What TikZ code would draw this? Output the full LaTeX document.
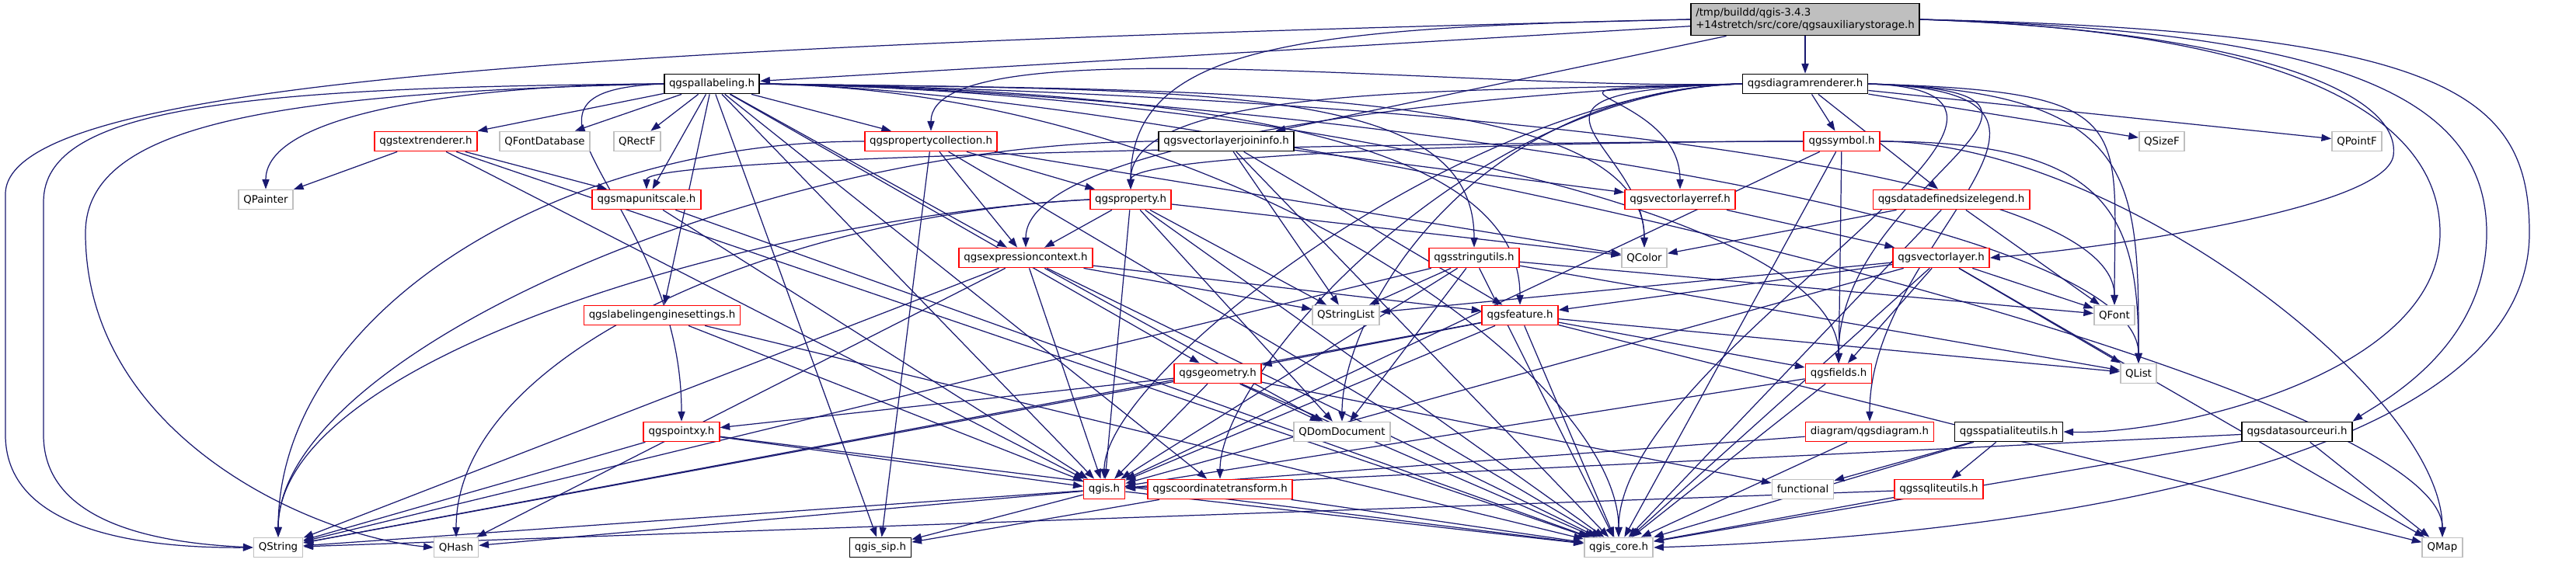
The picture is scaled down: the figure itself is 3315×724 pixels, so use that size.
\documentclass[tikz,border=0pt]{standalone}
\usepackage{fontspec}
\setmainfont{DejaVu Sans}
\usepackage{tikz}
\usetikzlibrary{arrows.meta, backgrounds}
\definecolor{depblue}{RGB}{25, 25, 112}
\definecolor{extgray}{RGB}{191, 191, 191}
\definecolor{redframe}{RGB}{255, 0, 0}

\begin{document}
\begin{tikzpicture}[
    x=0.01cm, y=-0.01cm,
    every node/.style={font=\fontsize{3.8}{4.4}\selectfont, inner xsep=1.8pt, inner ysep=0.5pt, minimum height=0.25cm, fill=white, line width=0.5pt},
    filebox/.style={draw=black},
    truncbox/.style={draw=redframe},
    extbox/.style={draw=extgray},
    mainbox/.style={draw=black, fill=extgray, align=left, minimum height=0.41cm},
    dep/.style={draw=depblue, line width=0.35pt, -{Triangle[length=3.6pt, width=2.6pt]}}
]
\useasboundingbox (0,0) rectangle (3315,724);

% rank 0 and 1
\node[mainbox] (top) at (2323, 25) {/tmp/buildd/qgis-3.4.3\\+14stretch/src/core/qgsauxiliarystorage.h};
\node[filebox] (pal) at (916, 108) {qgspallabeling.h};
\node[filebox] (diagr) at (2323, 108) {qgsdiagramrenderer.h};

% rank 2
\node[truncbox] (textr) at (548, 182) {qgstextrenderer.h};
\node[extbox] (fontdb) at (701, 182) {QFontDatabase};
\node[extbox] (rectf) at (820, 182) {QRectF};
\node[truncbox] (propcoll) at (1198, 182) {qgspropertycollection.h};
\node[filebox] (vljoin) at (1578, 182) {qgsvectorlayerjoininfo.h};
\node[truncbox] (symbol) at (2370, 182) {qgssymbol.h};
\node[extbox] (sizef) at (2782, 182) {QSizeF};
\node[extbox] (pointf) at (3033, 182) {QPointF};

% rank 3
\node[extbox] (painter) at (342, 257) {QPainter};
\node[truncbox] (mapunit) at (832, 257) {qgsmapunitscale.h};
\node[truncbox] (prop) at (1455, 257) {qgsproperty.h};
\node[truncbox] (vlref) at (2162, 257) {qgsvectorlayerref.h};
\node[truncbox] (ddsl) at (2511, 257) {qgsdatadefinedsizelegend.h};

% rank 4
\node[truncbox] (exprctx) at (1320, 332) {qgsexpressioncontext.h};
\node[truncbox] (strutils) at (1897, 332) {qgsstringutils.h};
\node[extbox] (qcolor) at (2116, 332) {QColor};
\node[truncbox] (vlayer) at (2498, 332) {qgsvectorlayer.h};

% rank 5
\node[truncbox] (labeng) at (852, 406) {qgslabelingenginesettings.h};
\node[extbox] (strlist) at (1732, 406) {QStringList};
\node[truncbox] (feature) at (1956, 406) {qgsfeature.h};
\node[extbox] (qfont) at (2721, 406) {QFont};

% rank 6
\node[truncbox] (geometry) at (1567, 481) {qgsgeometry.h};
\node[truncbox] (fields) at (2366, 481) {qgsfields.h};
\node[extbox] (qlist) at (2752, 481) {QList};

% rank 7
\node[truncbox] (pointxy) at (877, 556) {qgspointxy.h};
\node[extbox] (domdoc) at (1727, 556) {QDomDocument};
\node[truncbox] (diagram) at (2406, 556) {diagram/qgsdiagram.h};
\node[filebox] (spatialite) at (2585, 556) {qgsspatialiteutils.h};
\node[filebox] (dsuri) at (2956, 556) {qgsdatasourceuri.h};

% rank 8
\node[truncbox] (qgis) at (1421, 630) {qgis.h};
\node[truncbox] (coordtr) at (1570, 630) {qgscoordinatetransform.h};
\node[extbox] (functional) at (2320, 630) {functional};
\node[truncbox] (sqlite) at (2495, 630) {qgssqliteutils.h};

% rank 9
\node[extbox] (qstring) at (358, 705) {QString};
\node[extbox] (qhash) at (587, 705) {QHash};
\node[filebox] (qgissip) at (1133, 705) {qgis\_sip.h};
\node[extbox] (qgiscore) at (2083, 705) {qgis\_core.h};
\node[extbox] (qmap) at (3143, 705) {QMap};

\begin{scope}[on background layer]
% from the file itself
\draw[dep] (top) -- (pal);
\draw[dep] (top) -- (diagr);
\draw[dep] (top) -- (vljoin);
\draw[dep] (top.west) .. controls +(-500,10) and +(0,-200) .. (prop);
\draw[dep] (top.west) .. controls (700,60) and (7,110) .. (7,250) -- (7,560) .. controls (7,690) and (200,706) .. (qstring.west);
\draw[dep] (top.east) .. controls (2900,40) and (3090,120) .. (3080,200) .. controls (3070,270) and (2700,320) .. (vlayer.east);
\draw[dep] (top.east) .. controls (2950,40) and (3140,150) .. (3140,300) .. controls (3140,480) and (2800,560) .. (spatialite.east);
\draw[dep] (top.east) .. controls (3000,40) and (3200,120) .. (3200,300) .. controls (3200,450) and (3060,520) .. (dsuri.north east);
\draw[dep] (top.east) .. controls (3150,40) and (3255,120) .. (3255,300) .. controls (3255,600) and (2600,690) .. (qgiscore.east);

% qgspallabeling.h
\draw[dep] (pal.west) .. controls (300,112) and (56,140) .. (56,260) -- (56,560) .. controls (56,680) and (220,700) .. (qstring.west);
\draw[dep] (pal.west) .. controls (350,120) and (110,160) .. (110,300) .. controls (110,560) and (400,690) .. (qhash.west);
\foreach \dst in {textr, fontdb, rectf, mapunit, labeng, propcoll, exprctx, geometry, qgis, coordtr, qgissip}
    \draw[dep] (pal) -- (\dst);
\draw[dep] (pal.west) .. controls +(-200,0) and +(0,-120) .. (painter);
\draw[dep] (pal.west) .. controls +(-250,10) and +(0,-300) .. (pointxy);
\foreach \dst in {strutils, feature, qcolor, qfont, fields, qlist, qmap, qgiscore}
    \draw[dep] (pal.east) .. controls +(600,8) and +(0,-220) .. (\dst);

% qgsdiagramrenderer.h
\foreach \dst in {sizef, pointf, symbol, ddsl}
    \draw[dep] (diagr) -- (\dst);
\foreach \dst in {propcoll, prop, exprctx, vlref, qcolor, qgis, coordtr, domdoc}
    \draw[dep] (diagr.west) .. controls +(-350,10) and +(0,-150) .. (\dst);
\foreach \dst in {fields, qfont, qlist, diagram, qgiscore}
    \draw[dep] (diagr.east) .. controls +(350,10) and +(0,-250) .. (\dst);

% rank 2
\foreach \dst in {vlref, strlist, feature, qgiscore}
    \draw[dep] (vljoin) -- (\dst);
\draw[dep] (vljoin.west) .. controls +(-500,0) and +(0,-250) .. (qstring);
\foreach \dst in {prop, exprctx, qcolor, qgiscore, qgissip}
    \draw[dep] (propcoll) -- (\dst);
\draw[dep] (propcoll.west) .. controls +(-400,0) and +(0,-300) .. (qstring);
\foreach \dst in {mapunit, prop}
    \draw[dep] (symbol.west) .. controls +(-300,0) and +(0,-60) .. (\dst);
\foreach \dst in {fields, qgis, qgiscore}
    \draw[dep] (symbol) -- (\dst);
\foreach \dst in {qlist, qmap}
    \draw[dep] (symbol.east) .. controls +(300,0) and +(0,-200) .. (\dst);
\foreach \dst in {painter, mapunit, qgis, qgiscore}
    \draw[dep] (textr) -- (\dst);

% rank 3
\foreach \dst in {exprctx, qcolor, strlist, domdoc, qgis, qgiscore}
    \draw[dep] (prop) -- (\dst);
\foreach \dst in {qstring, qhash}
    \draw[dep] (prop.west) .. controls +(-400,20) and +(0,-250) .. (\dst);
\foreach \dst in {qgis, qgiscore}
    \draw[dep] (mapunit) -- (\dst);
\draw[dep] (vlref) -- (vlayer);
\foreach \dst in {qcolor, qfont, qgiscore}
    \draw[dep] (ddsl) -- (\dst);

% rank 4
\foreach \dst in {strlist, feature, qgis, qgiscore, domdoc, qstring, qhash}
    \draw[dep] (exprctx) -- (\dst);
\foreach \dst in {strlist, qstring, qlist, qfont, domdoc, qgis, qgiscore}
    \draw[dep] (strutils) -- (\dst);
\foreach \dst in {strlist, feature, fields, qlist, qfont, qmap, qgis, qgiscore}
    \draw[dep] (vlayer) -- (\dst);

% rank 5 and below
\foreach \dst in {qgis, qgiscore}
    \draw[dep] (labeng) -- (\dst);
\foreach \dst in {qlist, qmap, qstring, fields, geometry, qgis, qgiscore}
    \draw[dep] (feature) -- (\dst);
\foreach \dst in {qgis, qgiscore}
    \draw[dep] (fields) -- (\dst);
\foreach \dst in {domdoc, qstring, functional, qgis, pointxy, qgiscore}
    \draw[dep] (geometry) -- (\dst);
\foreach \dst in {qgis, qstring, qgiscore}
    \draw[dep] (pointxy) -- (\dst);
\foreach \dst in {qgis, qgiscore}
    \draw[dep] (diagram) -- (\dst);
\foreach \dst in {functional, sqlite, qgiscore}
    \draw[dep] (spatialite) -- (\dst);
\foreach \dst in {qgis, qgiscore, qmap}
    \draw[dep] (dsuri) -- (\dst);
\foreach \dst in {qstring, qgiscore}
    \draw[dep] (sqlite) -- (\dst);
\foreach \dst in {qgissip, qgiscore}
    \draw[dep] (coordtr) -- (\dst);
\foreach \dst in {qstring, qhash, qgiscore, qgissip}
    \draw[dep] (qgis) -- (\dst);
\end{scope}

\end{tikzpicture}
\end{document}
